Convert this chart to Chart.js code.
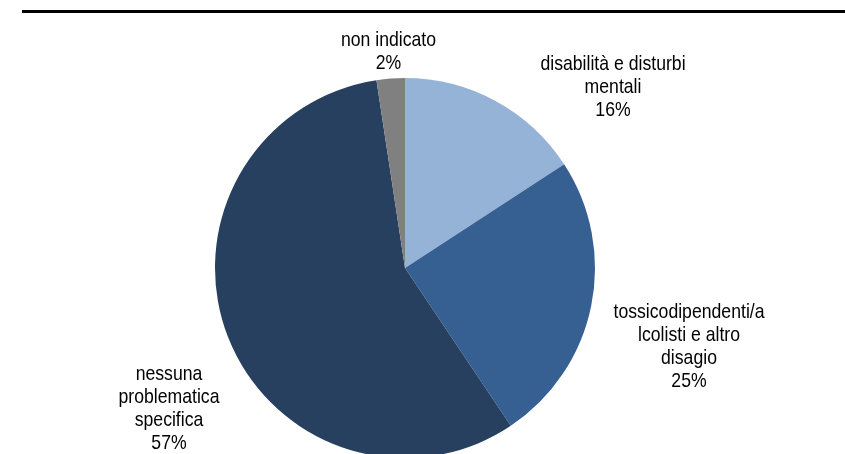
<!DOCTYPE html>
<html>
<head>
<meta charset="utf-8">
<script src="https://cdn.jsdelivr.net/npm/chart.js@4/dist/chart.umd.min.js"></script>
<style>
  html, body { margin: 0; padding: 0; background: #ffffff; overflow: hidden; width: 845px; height: 454px; }
  #rule { position: absolute; left: 22px; top: 10px; width: 823px; height: 3px; background: #000000; }
  #wrap { position: absolute; left: 0; top: 0; width: 845px; height: 462px; }
</style>
</head>
<body>
<div id="rule"></div>
<div id="wrap"><canvas id="c" width="845" height="462"></canvas></div>
<script>
// Categories (line breaks as wrapped in the reference)
const categories = [
  'disabilità e disturbi\nmentali',
  'tossicodipendenti/a\nlcolisti e altro\ndisagio',
  'nessuna\nproblematica\nspecifica',
  'non indicato'
];
// Shares (%)
const values = [15.8, 24.8, 57.0, 2.4];
const colors = ['#95B3D7', '#376092', '#27405F', '#808080'];

const labelPlugin = {
  id: 'sliceLabels',
  afterDatasetsDraw(chart, args, opts) {
    const ctx = chart.ctx;
    const meta = chart.getDatasetMeta(0);
    const data = chart.data.datasets[0].data;
    const total = data.reduce((a, b) => a + b, 0);
    ctx.save();
    ctx.fillStyle = '#000000';
    ctx.font = opts.fontSize + 'px "Liberation Sans", Arial, sans-serif';
    ctx.textAlign = 'center';
    ctx.textBaseline = 'alphabetic';
    meta.data.forEach((arc, i) => {
      const lines = chart.data.labels[i].split('\n');
      lines.push(Math.round(data[i] / total * 100) + '%');
      const off = opts.offsets[i];
      const cx = arc.x + off[0];
      const y0 = arc.y + off[1];
      lines.forEach((t, k) => {
        ctx.save();
        ctx.translate(cx, y0 + k * opts.lineHeight);
        ctx.scale(opts.xScale, 1);
        ctx.fillText(t, 0, 0);
        ctx.restore();
      });
    });
    ctx.restore();
  }
};

new Chart(document.getElementById('c'), {
  type: 'pie',
  data: {
    labels: categories,
    datasets: [{
      data: values,
      backgroundColor: colors,
      borderWidth: 0
    }]
  },
  options: {
    responsive: false,
    animation: false,
    rotation: 0,
    layout: { padding: { top: 78, bottom: 4, left: 0, right: 35 } },
    plugins: {
      legend: { display: false },
      tooltip: { enabled: false },
      sliceLabels: {
        fontSize: 21,
        xScale: 0.84,
        lineHeight: 23,
        offsets: [[208, -198], [284, 50], [-236, 112], [-16.5, -222]]
      }
    }
  },
  plugins: [labelPlugin]
});
</script>
</body>
</html>
